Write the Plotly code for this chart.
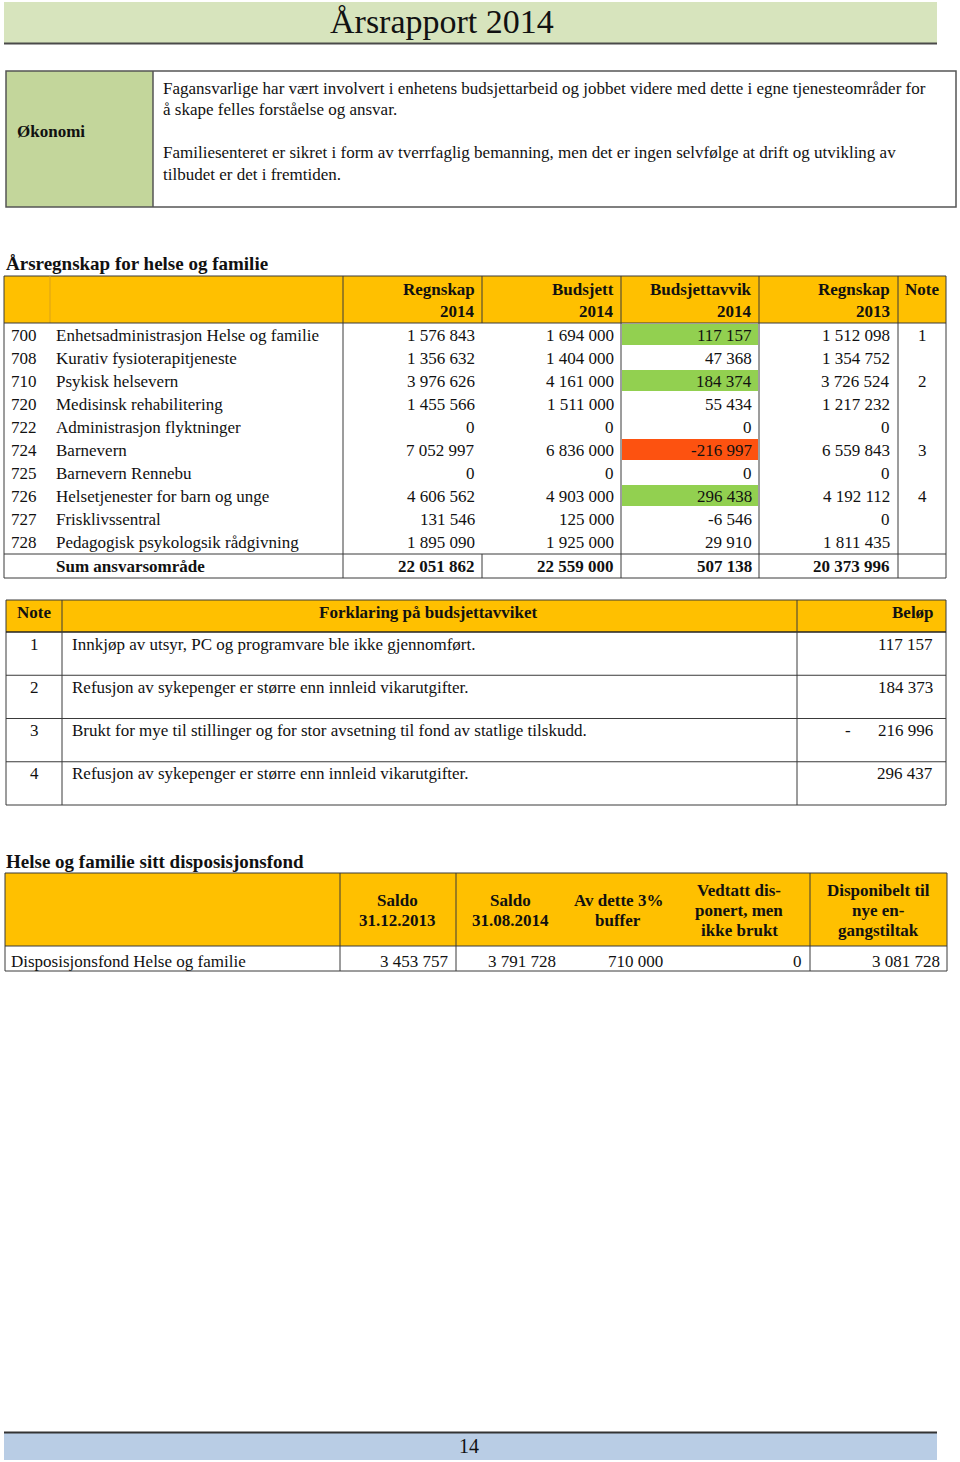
import plotly.graph_objects as go

# --- data -----------------------------------------------------------------
page_title = "Årsrapport 2014"
page_number = "14"

okonomi_label = "Økonomi"
okonomi_lines = [
    "Fagansvarlige har vært involvert i enhetens budsjettarbeid og jobbet videre med dette i egne tjenesteområder for",
    "å skape felles forståelse og ansvar.",
    "",
    "Familiesenteret er sikret i form av tverrfaglig bemanning, men det er ingen selvfølge at drift og utvikling av",
    "tilbudet er det i fremtiden.",
]

regnskap_title = "Årsregnskap for helse og familie"
regnskap_headers = [("Regnskap", "2014"), ("Budsjett", "2014"), ("Budsjettavvik", "2014"), ("Regnskap", "2013")]
codes = ["700", "708", "710", "720", "722", "724", "725", "726", "727", "728"]
names = [
    "Enhetsadministrasjon Helse og familie",
    "Kurativ fysioterapitjeneste",
    "Psykisk helsevern",
    "Medisinsk rehabilitering",
    "Administrasjon flyktninger",
    "Barnevern",
    "Barnevern Rennebu",
    "Helsetjenester for barn og unge",
    "Frisklivssentral",
    "Pedagogisk psykologsik rådgivning",
]
regnskap_2014 = [1576843, 1356632, 3976626, 1455566, 0, 7052997, 0, 4606562, 131546, 1895090]
budsjett_2014 = [1694000, 1404000, 4161000, 1511000, 0, 6836000, 0, 4903000, 125000, 1925000]
avvik_2014 = [117157, 47368, 184374, 55434, 0, -216997, 0, 296438, -6546, 29910]
regnskap_2013 = [1512098, 1354752, 3726524, 1217232, 0, 6559843, 0, 4192112, 0, 1811435]
notes = ["1", "", "2", "", "", "3", "", "4", "", ""]
sum_label = "Sum ansvarsområde"
sum_values = [22051862, 22559000, 507138, 20373996]

note_header = ["Note", "Forklaring på budsjettavviket", "Beløp"]
note_ids = ["1", "2", "3", "4"]
note_texts = [
    "Innkjøp av utsyr, PC og programvare ble ikke gjennomført.",
    "Refusjon av sykepenger er større enn innleid vikarutgifter.",
    "Brukt for mye til stillinger og for stor avsetning til fond av statlige tilskudd.",
    "Refusjon av sykepenger er større enn innleid vikarutgifter.",
]
note_amounts = [117157, 184373, -216996, 296437]

fond_title = "Helse og familie sitt disposisjonsfond"
fond_headers = [
    ["Saldo", "31.12.2013"],
    ["Saldo", "31.08.2014"],
    ["Av dette 3%", "buffer"],
    ["Vedtatt dis-", "ponert, men", "ikke brukt"],
    ["Disponibelt til", "nye en-", "gangstiltak"],
]
fond_label = "Disposisjonsfond Helse og familie"
fond_values = [3453757, 3791728, 710000, 0, 3081728]

# --- styling ----------------------------------------------------------------
FONT = "Liberation Serif, Times New Roman, serif"
INK = "#111111"
GRID = "#3a3a3a"
ORANGE = "#FFC000"
GOOD = "#92D050"
BAD = "#FD5210"
BODY = 17
SECTION = 19

shapes = []
notes_ann = []


def fmt(v):
    s = f"{abs(v):,}".replace(",", " ")
    return "-" + s if v < 0 else s


def box(x0, y0, x1, y1, fill=None, color=GRID, width=1):
    shapes.append(dict(type="rect", x0=x0, y0=y0, x1=x1, y1=y1, xref="x", yref="y",
                       fillcolor=fill or "rgba(0,0,0,0)", layer="below",
                       line=dict(color=color, width=width)))


def fillbox(x0, y0, x1, y1, fill):
    shapes.append(dict(type="rect", x0=x0, y0=y0, x1=x1, y1=y1, xref="x", yref="y",
                       fillcolor=fill, layer="below", line=dict(width=0)))


def hline(x0, x1, y, color=GRID, width=1):
    shapes.append(dict(type="line", x0=x0, x1=x1, y0=y, y1=y, xref="x", yref="y",
                       line=dict(color=color, width=width)))


def vline(x, y0, y1, color=GRID, width=1):
    shapes.append(dict(type="line", x0=x, x1=x, y0=y0, y1=y1, xref="x", yref="y",
                       line=dict(color=color, width=width)))


def text(x, y, s, anchor="left", bold=False, size=BODY):
    if bold:
        s = "<b>" + s + "</b>"
    if anchor == "left":
        x -= 2  # annotation box padding
    notes_ann.append(dict(x=x, y=y, xref="x", yref="y", text=s, showarrow=False,
                          xanchor=anchor, yanchor="middle",
                          font=dict(family=FONT, size=size, color=INK)))


# --- page header / footer -------------------------------------------------------
fillbox(4, 2, 937, 43, "#D7E4BD")
hline(4, 937, 43.5, "#4a4a4a", 2)
text(442, 21, page_title, "center", size=34)

fillbox(4, 1433, 937, 1460, "#B9CDE5")
hline(4, 937, 1432.5, "#333333", 2)
text(469, 1446, page_number, "center", size=20)

# --- Økonomi box ------------------------------------------------------------------
fillbox(6, 71, 153, 207, "#C3D69B")
box(6, 71, 956, 207, color="#555555", width=1.5)
vline(153, 71, 207, "#555555", 1.5)
text(17, 131, okonomi_label, bold=True)
for i, line in enumerate(okonomi_lines):
    if line:
        text(163, 88 + i * 21.5, line)

# --- Årsregnskap table --------------------------------------------------------------
text(6, 263, regnskap_title, bold=True, size=SECTION)
T_L, T_R = 4, 946
H_TOP, H_BOT = 276, 323
ROW_H = 23
num_right = [477, 616, 754, 892]
col_lines = [343, 621, 759, 898]
fillbox(T_L, H_TOP, T_R, H_BOT, ORANGE)
for k, (a, b) in enumerate(regnskap_headers):
    text(num_right[k], 289, a, "right", bold=True)
    text(num_right[k], 311, b, "right", bold=True)
text(922, 289, "Note", "center", bold=True)
vline(50, H_TOP, H_BOT, "#d9a21a", 1)

rows_bot = H_BOT + ROW_H * len(codes)
for i in range(len(codes)):
    top = H_BOT + ROW_H * i
    cy = top + 12
    v = avvik_2014[i]
    if notes[i]:
        fillbox(622, top + 1, 758, top + ROW_H - 1, GOOD if v > 0 else BAD)
    text(11, cy, codes[i])
    text(56, cy, names[i])
    text(num_right[0], cy, fmt(regnskap_2014[i]), "right")
    text(num_right[1], cy, fmt(budsjett_2014[i]), "right")
    text(num_right[2], cy, fmt(v), "right")
    text(num_right[3], cy, fmt(regnskap_2013[i]), "right")
    if notes[i]:
        text(922, cy, notes[i], "center")

S_BOT = rows_bot + 25
text(56, rows_bot + 13.5, sum_label, bold=True)
for k, v in enumerate(sum_values):
    text(num_right[k], rows_bot + 13.5, fmt(v), "right", bold=True)

box(T_L, H_TOP, T_R, S_BOT)
hline(T_L, T_R, H_BOT)
hline(T_L, T_R, rows_bot + 1)
for x in col_lines:
    vline(x, H_TOP, S_BOT)
vline(482, H_TOP, H_BOT)
vline(482, rows_bot + 1, S_BOT)

# --- note table -------------------------------------------------------------------
N_L, N_R = 6, 946
N_TOP, N_HBOT = 600, 632
N_ROW = 43.25
fillbox(N_L, N_TOP, N_R, N_HBOT, ORANGE)
text(34, 612, note_header[0], "center", bold=True)
text(428, 612, note_header[1], "center", bold=True)
text(936, 612, note_header[2], "right", bold=True)
N_BOT = N_HBOT + N_ROW * len(note_ids)
box(N_L, N_TOP, N_R, N_BOT)
hline(N_L, N_R, N_HBOT, "#222222", 1.5)
for i in range(len(note_ids)):
    top = N_HBOT + N_ROW * i
    if i > 0:
        hline(N_L, N_R, top)
    text(34, top + 12, note_ids[i], "center")
    text(72, top + 12, note_texts[i])
    amt = note_amounts[i]
    if amt < 0:
        text(848, top + 12, "-", "center")
    text(935, top + 12, fmt(abs(amt)), "right")
vline(62, N_TOP, N_BOT)
vline(797, N_TOP, N_BOT)

# --- fond table -------------------------------------------------------------------
text(6, 861, fond_title, bold=True, size=SECTION)
F_L, F_R = 5, 947
F_TOP, F_HBOT, F_BOT = 873, 946, 971
fillbox(F_L, F_TOP, F_R, F_HBOT, ORANGE)
head_cx = [397, 510, 618, 739, 878]
for k, lines in enumerate(fond_headers):
    n = len(lines)
    y0 = 900 if n == 2 else 890
    for j, s in enumerate(lines):
        text(head_cx[k], y0 + j * 20, s, "center", bold=True)
box(F_L, F_TOP, F_R, F_BOT)
hline(F_L, F_R, F_HBOT)
for x in [340, 456, 810]:
    vline(x, F_TOP, F_BOT)
val_right = [451, 558, 665, 804, 942]
text(11, 961, fond_label)
for k, v in enumerate(fond_values):
    text(val_right[k], 961, fmt(v), "right")

# --- figure -------------------------------------------------------------------------
fig = go.Figure()
fig.add_trace(go.Scatter(x=[0, 960], y=[0, 1462], mode="markers",
                         marker=dict(opacity=0), hoverinfo="skip", showlegend=False))
fig.update_layout(
    width=960, height=1462,
    margin=dict(l=0, r=0, t=0, b=0),
    paper_bgcolor="white", plot_bgcolor="white",
    xaxis=dict(range=[0, 960], visible=False, fixedrange=True),
    yaxis=dict(range=[1462, 0], visible=False, fixedrange=True),
    shapes=shapes, annotations=notes_ann,
    showlegend=False,
)
# drop the browser's default body margin so the page sits at the window's corner
fig.write_html("out.html", config={"displayModeBar": False},
               post_script="document.body.style.margin='0';document.body.style.overflow='hidden';")
